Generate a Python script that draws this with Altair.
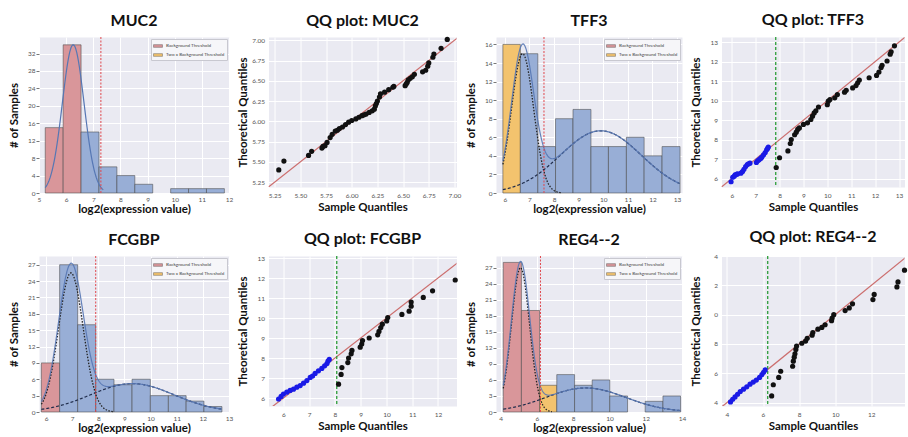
import altair as alt
import pandas as pd

FONT = "Lato"
PLOT_BG = "#EAEAF2"
RED_FILL = "#D9969A"
ORANGE_FILL = "#F3C36E"
BLUE_FILL = "#98AED6"
CURVE_BLUE = "#5677B4"
DARK = "#222222"
THRESH_RED = "#E0474C"
GREEN = "#2E9E3A"
PT_BLUE = "#1A1AE6"
PT_BLACK = "#111111"
LINE_RED = "#CC6E6E"

ZONES = ["Background Threshold", "Two x Background Threshold", "Above"]

# ---------------- histogram data ----------------
muc2_edges = [5.23, 5.89, 6.55, 7.21, 7.87, 8.53, 9.19, 9.85, 10.51, 11.17, 11.83]
muc2_counts = [15, 34, 14, 6, 4, 2, 0, 1, 1, 1]
muc2_zone = [0, 0, 2, 2, 2, 2, 2, 2, 2, 2]
muc2_comps = [(34, 6.26, 0.40)]
muc2_threshold = 7.28

tff3_edges = [5.92, 6.63, 7.34, 8.06, 8.77, 9.50, 10.21, 10.94, 11.66, 12.39, 13.12]
tff3_counts = [16, 15, 5, 8, 9, 5, 5, 6, 4, 5]
tff3_zone = [1, 2, 2, 2, 2, 2, 2, 2, 2, 2]
tff3_comps = [(15, 6.72, 0.45), (6.7, 9.9, 1.65)]
tff3_threshold = 7.59

fcgbp_edges = [5.82, 6.52, 7.21, 7.90, 8.60, 9.29, 9.99, 10.68, 11.36, 12.04, 12.73]
fcgbp_counts = [9, 27, 16, 6, 5, 6, 3, 3, 2, 1]
fcgbp_zone = [0, 2, 2, 2, 2, 2, 2, 2, 2, 2]
fcgbp_comps = [(25.5, 6.95, 0.47), (5.2, 9.3, 1.6)]
fcgbp_threshold = 7.9

reg4_edges = [4.15, 5.15, 6.15, 7.10, 8.08, 9.05, 10.02, 11.00, 11.97, 12.95, 13.92]
reg4_counts = [28, 19, 5, 7, 5, 6, 3, 0, 2, 3]
reg4_zone = [0, 0, 1, 2, 2, 2, 2, 2, 2, 2]
reg4_comps = [(27, 5.1, 0.5), (4.5, 8.7, 2.2)]
reg4_threshold = 6.2

# ---------------- QQ data ----------------
muc2_qq_x = [5.29, 5.34, 5.58, 5.61, 5.71, 5.72, 5.74, 5.76, 5.79, 5.81, 5.84, 5.86, 5.88, 5.91, 5.94,
             5.97, 6.00, 6.04, 6.07, 6.10, 6.12, 6.14, 6.17, 6.20, 6.22, 6.23, 6.24, 6.25, 6.27, 6.28,
             6.32, 6.36, 6.40, 6.41, 6.52, 6.53, 6.54, 6.55, 6.57, 6.59, 6.61, 6.69, 6.72, 6.74, 6.75,
             6.79, 6.80, 6.87, 6.93]
muc2_qq_y = [5.40, 5.51, 5.58, 5.63, 5.67, 5.69, 5.70, 5.74, 5.80, 5.84, 5.88, 5.89, 5.91, 5.93, 5.96,
             5.99, 6.01, 6.03, 6.05, 6.07, 6.08, 6.09, 6.11, 6.13, 6.15, 6.19, 6.22, 6.25, 6.30, 6.34,
             6.36, 6.39, 6.42, 6.43, 6.44, 6.46, 6.48, 6.51, 6.53, 6.55, 6.58, 6.61, 6.63, 6.68, 6.72,
             6.79, 6.83, 6.90, 7.01]

tff3_low_x = [5.97, 6.04, 6.10, 6.14, 6.20, 6.24, 6.38, 6.45, 6.51, 6.58, 6.65, 6.70, 6.76, 7.03, 7.08,
              7.13, 7.17, 7.22, 7.26, 7.33, 7.40, 7.46, 7.50, 7.53]
tff3_low_y = [5.84, 6.07, 6.12, 6.19, 6.22, 6.24, 6.28, 6.36, 6.48, 6.62, 6.72, 6.76, 6.79, 6.83, 6.91,
              6.95, 7.00, 7.05, 7.10, 7.22, 7.34, 7.48, 7.55, 7.62]
tff3_high_x = [7.86, 8.00, 8.35, 8.45, 8.49, 8.63, 8.70, 8.76, 8.83, 9.00, 9.17, 9.31, 9.38, 9.45, 9.52,
               9.63, 10.00, 10.04, 10.11, 10.31, 10.42, 10.72, 10.79, 11.06, 11.20, 11.27, 11.34, 11.75,
               12.06, 12.16, 12.25, 12.29, 12.50, 12.63, 12.67, 12.81]
tff3_high_y = [6.57, 7.07, 7.42, 7.80, 8.00, 8.25, 8.38, 8.52, 8.60, 8.78, 8.86, 9.03, 9.20, 9.37, 9.48,
               9.67, 9.79, 9.97, 10.05, 10.14, 10.31, 10.43, 10.53, 10.65, 10.77, 10.91, 11.05, 11.17,
               11.29, 11.46, 11.69, 11.81, 12.03, 12.38, 12.50, 12.81]
tff3_qq_threshold = 7.84

fcgbp_low_x = [5.81, 5.91, 6.00, 6.13, 6.26, 6.39, 6.52, 6.65, 6.78, 6.91, 7.04, 7.13, 7.23, 7.36, 7.49,
               7.60, 7.69, 7.73, 7.78]
fcgbp_low_y = [5.95, 6.08, 6.20, 6.29, 6.38, 6.44, 6.54, 6.62, 6.74, 6.87, 7.03, 7.10, 7.23, 7.36, 7.48,
               7.61, 7.72, 7.85, 7.93]
fcgbp_high_x = [8.14, 8.24, 8.27, 8.50, 8.53, 8.63, 8.66, 8.98, 9.04, 9.07, 9.33, 9.66, 9.71, 9.78, 9.84,
                10.01, 10.05, 10.60, 10.88, 10.96, 10.96, 11.43, 11.79, 12.67]
fcgbp_high_y = [6.69, 7.18, 7.52, 7.77, 8.00, 8.21, 8.38, 8.54, 8.70, 8.87, 9.00, 9.16, 9.33, 9.52, 9.69,
                9.85, 10.02, 10.18, 10.34, 10.59, 10.80, 11.03, 11.36, 11.90]
fcgbp_qq_threshold = 8.07

reg4_low_x = [4.20, 4.32, 4.45, 4.59, 4.74, 4.92, 5.10, 5.28, 5.46, 5.63, 5.81, 5.94, 6.03, 6.12]
reg4_low_y = [4.05, 4.23, 4.39, 4.57, 4.76, 4.92, 5.08, 5.26, 5.40, 5.54, 5.72, 5.91, 6.07, 6.23]
reg4_high_x = [6.48, 6.57, 6.87, 6.98, 7.64, 7.68, 7.73, 7.77, 7.82, 7.86, 8.15, 8.36, 8.45, 8.72, 8.76,
               9.04, 9.26, 9.44, 9.80, 9.83, 9.92, 10.55, 10.78, 10.96, 12.09, 12.16, 13.42, 13.48, 13.84]
reg4_high_y = [4.46, 5.22, 5.72, 6.14, 6.48, 6.83, 7.10, 7.33, 7.63, 7.86, 8.05, 8.20, 8.39, 8.60, 8.78,
               9.01, 9.13, 9.31, 9.59, 9.77, 10.00, 10.28, 10.46, 10.74, 11.03, 11.38, 11.89, 12.23, 13.03]
reg4_qq_threshold = 6.26

RECT_SYMBOL = "M-1,-0.3H1V0.3H-1Z"


def gauss_expr(comp):
    a, m, s = comp
    return f"{a}*exp(-pow(datum.x-{m},2)/(2*{s}*{s}))"


def hist_panel(title, edges, counts, zone_idx, comps, threshold, x_dom, x_ticks, y_dom, y_ticks,
               width, height):
    df = pd.DataFrame({"x": edges[:-1], "x_end": edges[1:], "y": counts,
                       "zone": [ZONES[i] for i in zone_idx]})
    df = df[df.y > 0]
    xs = alt.Scale(domain=x_dom, nice=False, zero=False)
    ys = alt.Scale(domain=y_dom, nice=False)
    X = alt.X("x:Q", scale=xs, axis=alt.Axis(values=x_ticks, title="log2(expression value)", ticks=False,
                                             labelPadding=3, titlePadding=1, labelFlush=False,
                                             labelOverlap=False))
    Y = alt.Y("y:Q", scale=ys, axis=alt.Axis(values=y_ticks, title="# of Samples", ticks=True, tickSize=3,
                                             labelPadding=1, minExtent=17, maxExtent=17, titlePadding=3,
                                             labelOverlap=False))
    bars = alt.Chart(df).mark_rect(stroke="#4a4a4a", strokeWidth=0.7, strokeOpacity=0.8).encode(
        x=X, x2="x_end:Q", y=Y, y2=alt.datum(0),
        color=alt.Color("zone:N",
                        scale=alt.Scale(domain=ZONES, range=[RED_FILL, ORANGE_FILL, BLUE_FILL]),
                        legend=alt.Legend(values=ZONES[:2], title=None, orient="top-right", offset=2,
                                          labelFontSize=4.6, labelFont=FONT, labelColor="#444",
                                          symbolType=RECT_SYMBOL, symbolSize=80,
                                          symbolStrokeColor="#444", symbolStrokeWidth=0.4,
                                          symbolOpacity=1, padding=2, rowPadding=1, labelOffset=3,
                                          fillColor="#F6F6F9", strokeColor="#C8C8D0")),
    )
    lo, hi = edges[0], edges[-1]
    layers = [bars]
    if len(comps) == 1:
        curve_hi = comps[0][1] + 2.8 * comps[0][2]
        layers.append(
            alt.Chart(alt.sequence(lo, curve_hi, 0.02, as_="x"))
            .transform_calculate(y=gauss_expr(comps[0]))
            .mark_line(color=CURVE_BLUE, strokeWidth=1.2).encode(x=X, y=Y)
        )
    else:
        c1_hi = comps[0][1] + 3.5 * comps[0][2]
        layers.append(
            alt.Chart(alt.sequence(lo, c1_hi, 0.02, as_="x"))
            .transform_calculate(y=gauss_expr(comps[0]))
            .mark_line(color=DARK, strokeWidth=1.3, strokeDash=[1.5, 1.5]).encode(x=X, y=Y)
        )
        layers.append(
            alt.Chart(alt.sequence(lo, hi, 0.02, as_="x"))
            .transform_calculate(y=gauss_expr(comps[1]))
            .mark_line(color="#1E2B4A", strokeWidth=1.2, strokeDash=[3, 2]).encode(x=X, y=Y)
        )
        layers.append(
            alt.Chart(alt.sequence(lo, hi, 0.02, as_="x"))
            .transform_calculate(y=" + ".join(gauss_expr(c) for c in comps))
            .mark_line(color=CURVE_BLUE, strokeWidth=1.2, opacity=0.9).encode(x=X, y=Y)
        )
    layers.append(
        alt.Chart(pd.DataFrame({"x": [threshold]}))
        .mark_rule(color=THRESH_RED, strokeWidth=1, strokeDash=[2, 1.5]).encode(x=X)
    )
    return alt.layer(*layers).properties(width=width, height=height, title=title)


def qq_panel(title, low_x, low_y, high_x, high_y, threshold, x_dom, x_ticks, y_dom, y_ticks, fmt,
             width, height, label_expr=None):
    df = pd.DataFrame({"x": low_x + high_x, "y": low_y + high_y,
                       "grp": ["below"] * len(low_x) + ["above"] * len(high_x)})
    xs = alt.Scale(domain=x_dom, nice=False, zero=False)
    ys = alt.Scale(domain=y_dom, nice=False, zero=False)
    X = alt.X("x:Q", scale=xs, axis=alt.Axis(values=x_ticks, format=fmt, title="Sample Quantiles",
                                             ticks=False, labelPadding=5, titlePadding=3,
                                             labelFlush=False, labelOverlap=False))
    yaxis_kw = dict(values=y_ticks, format=fmt, title="Theoretical Quantiles", ticks=False,
                    labelPadding=4, minExtent=17, maxExtent=17, titlePadding=3, labelOverlap=False)
    if label_expr:
        yaxis_kw["labelExpr"] = label_expr
    Y = alt.Y("y:Q", scale=ys, axis=alt.Axis(**yaxis_kw))
    ends = [min(x_dom[0], y_dom[0]), max(x_dom[1], y_dom[1])]
    line = alt.Chart(pd.DataFrame({"x": ends, "y": ends})).mark_line(
        color=LINE_RED, strokeWidth=1.2, clip=True).encode(x=X, y=Y)
    layers = [line]
    if threshold is not None:
        layers.append(
            alt.Chart(pd.DataFrame({"x": [threshold]}))
            .mark_rule(color=GREEN, strokeWidth=1.3, strokeDash=[3, 2]).encode(x=X)
        )
    pts = alt.Chart(df).mark_circle(size=27, opacity=1).encode(
        x=X, y=Y,
        color=alt.Color("grp:N", scale=alt.Scale(domain=["below", "above"], range=[PT_BLUE, PT_BLACK]),
                        legend=None),
    )
    layers.append(pts)
    return alt.layer(*layers).properties(width=width, height=height, title=title)


W1, W2, W3, W4 = 190, 188, 186, 183
HH, QH = 156, 150

p1 = hist_panel("MUC2", muc2_edges, muc2_counts, muc2_zone, muc2_comps, muc2_threshold,
                [5.0, 12.0], [5, 6, 7, 8, 9, 10, 11, 12], [0, 35.8], [0, 4, 8, 12, 16, 20, 24, 28, 32], W1, HH)
p2 = qq_panel("QQ plot: MUC2", [], [], muc2_qq_x, muc2_qq_y, None,
              [5.19, 7.02], [5.25, 5.5, 5.75, 6.0, 6.25, 6.5, 6.75, 7.0],
              [5.19, 7.04], [5.25, 5.5, 5.75, 6.0, 6.25, 6.5, 6.75, 7.0], ".2f", W2, QH)
p3 = hist_panel("TFF3", tff3_edges, tff3_counts, tff3_zone, tff3_comps, tff3_threshold,
                [5.64, 13.2], [6, 7, 8, 9, 10, 11, 12, 13], [0, 16.8], [0, 2, 4, 6, 8, 10, 12, 14, 16], W3, HH)
p4 = qq_panel("QQ plot: TFF3", tff3_low_x, tff3_low_y, tff3_high_x, tff3_high_y, tff3_qq_threshold,
              [5.57, 13.23], [6, 7, 8, 9, 10, 11, 12, 13], [5.57, 13.26], [6, 7, 8, 9, 10, 11, 12, 13], "d",
              W4, QH)
p5 = hist_panel("FCGBP", fcgbp_edges, fcgbp_counts, fcgbp_zone, fcgbp_comps, fcgbp_threshold,
                [5.73, 13.0], [6, 7, 8, 9, 10, 11, 12, 13], [0, 28.6], [0, 3, 6, 9, 12, 15, 18, 21, 24, 27], W1, HH)
p6 = qq_panel("QQ plot: FCGBP", fcgbp_low_x, fcgbp_low_y, fcgbp_high_x, fcgbp_high_y, fcgbp_qq_threshold,
              [5.42, 12.72], [6, 7, 8, 9, 10, 11, 12], [5.6, 13.1], [6, 7, 8, 9, 10, 11, 12, 13], "d",
              W2, QH)
p7 = hist_panel("REG4--2", reg4_edges, reg4_counts, reg4_zone, reg4_comps, reg4_threshold,
                [3.75, 14.0], [4, 6, 8, 10, 12, 14], [0, 29.2], [0, 3, 6, 9, 12, 15, 18, 21, 24, 27], W3, HH)
p8 = qq_panel("QQ plot: REG4--2", reg4_low_x, reg4_low_y, reg4_high_x, reg4_high_y, reg4_qq_threshold,
              [3.7, 13.84], [4, 6, 8, 10, 12], [3.77, 14.0], [4, 6, 8, 10, 12, 14], "d",
              W4, QH, label_expr="datum.value % 10")

chart = (
    alt.concat(p1, p2, p3, p4, p5, p6, p7, p8, columns=4,
               spacing={"row": 63, "column": 39.5}, bounds="flush", align="each")
    .resolve_scale(color="independent")
    .resolve_legend(color="independent")
    .properties(padding={"left": 8, "top": 12, "right": 0, "bottom": 0}, background="white")
    .configure(font=FONT)
    .configure_view(fill=PLOT_BG, strokeOpacity=0)
    .configure_axis(gridColor="white", gridWidth=1, domain=False, labelColor="#555555", labelFont=FONT,
                    labelFontSize=6.5, titleFont=FONT, titleFontSize=11.5, titleFontWeight="bold",
                    titleColor="#111111", tickColor="#777777")
    .configure_title(font=FONT, fontSize=16, fontWeight="bold", anchor="middle", offset=8, color="#111111")
)

chart.save("out.html", embed_options={"renderer": "svg", "actions": False})
